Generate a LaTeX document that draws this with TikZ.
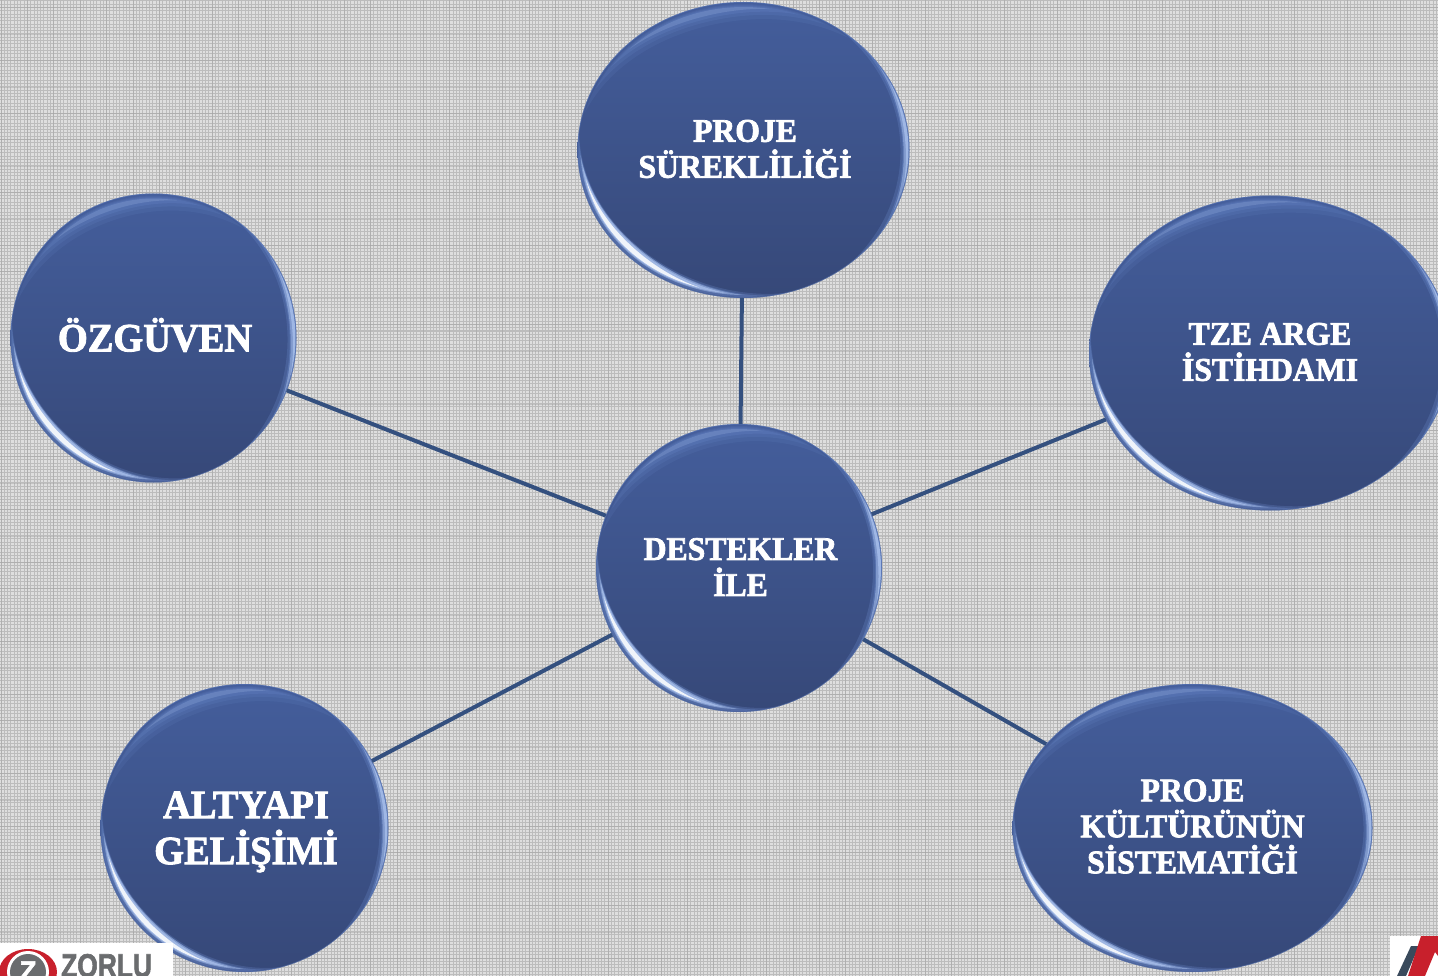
\documentclass[tikz,border=0pt]{standalone}
\usepackage{fontspec}
\setmainfont{Liberation Serif}[BoldFeatures={FakeBold=2.2,FakeStretch=.96}]
\setsansfont{Liberation Sans}[BoldFeatures={FakeBold=2}]
\usetikzlibrary{shapes.geometric}
\definecolor{bgbase}{HTML}{DEDEDE}
\definecolor{bggrid}{HTML}{BCBCBC}
\definecolor{bggridd}{HTML}{9C9C9C}
\definecolor{bubtop}{HTML}{445E9C}
\definecolor{bubbot}{HTML}{364878}
\definecolor{rimblue}{HTML}{6F8FD0}
\definecolor{rimlight}{HTML}{B4CBF5}
\definecolor{linkcol}{HTML}{34507F}
\definecolor{zred}{HTML}{C8202C}
\definecolor{zgrey}{HTML}{6A6C6E}
\definecolor{adark}{HTML}{3A4A5C}
\tikzset{
  link/.style={draw=linkcol,line width=4pt},
  bubtext/.style={text=white,align=center},
}
% tapered band along the rim: style, rx, ry, from angle, to angle, inset, width
\newcommand{\band}[7]{%
  \fill[#1] plot[domain=#4:#5,samples=36,smooth] ({(#2-#6)*cos(\x)},{(#3-#6)*sin(\x)})
    -- plot[domain=#5:#4,samples=36,smooth]
      ({(#2-#6-#7*sin((\x-#4)/(#5-#4)*180))*cos(\x)},{(#3-#6-#7*sin((\x-#4)/(#5-#4)*180))*sin(\x)}) -- cycle;}
\newcommand{\rims}[3]{%
  \begin{scope}[shift={(#1.center)},x=1pt,y=1pt]
    \clip (0,0) ellipse [x radius=#2pt,y radius=#3pt];
    % top
    \band{rimblue,opacity=.12}{#2}{#3}{50}{165}{2}{18}
    \band{rimblue,opacity=.15}{#2}{#3}{60}{155}{3}{13}
    \band{rimblue,opacity=.20}{#2}{#3}{70}{145}{4}{9}
    \band{rimlight,opacity=.20}{#2}{#3}{80}{135}{5}{5}
    % right
    \band{rimblue,opacity=.25}{#2}{#3}{-50}{55}{0}{9}
    \band{rimblue,opacity=.35}{#2}{#3}{-35}{45}{0}{7}
    \band{rimlight,opacity=.45}{#2}{#3}{-25}{35}{1}{5}
    \band{rimlight,opacity=.6}{#2}{#3}{-15}{28}{1}{3}
    % lower left
    \band{rimblue,opacity=.25}{#2}{#3}{172}{285}{0}{14}
    \band{rimblue,opacity=.35}{#2}{#3}{176}{278}{1}{12}
    \band{rimlight,opacity=.45}{#2}{#3}{182}{270}{3}{10}
    \band{rimlight,opacity=.6}{#2}{#3}{186}{264}{4}{8}
    \band{white,opacity=.85}{#2}{#3}{192}{254}{5}{5}
    \draw[rimblue,opacity=.4,line width=1.2pt] (0,0) ellipse [x radius=#2pt,y radius=#3pt];
  \end{scope}}
\newcommand{\bubble}[9]{%
  \node[ellipse,inner sep=0pt,outer sep=0pt,draw=none,
    minimum width=2*#4pt,minimum height=2*#5pt,
    top color=bubtop,bottom color=bubbot]
    (#1) at (#2,#3) {};
  \rims{#1}{#4}{#5}
  \node[bubtext,inner sep=0pt,font=\bfseries\fontsize{#6pt}{#7pt}\selectfont,#9] (#1t) at (#1.center) {#8};}
\begin{document}
\begin{tikzpicture}[x=1pt,y=-1pt]
\useasboundingbox (0,0) rectangle (1438,976);
\fill[bgbase] (0,0) rectangle (1438,976);
\foreach \i in {0,...,435}{
  \pgfmathsetmacro{\p}{\i*3.3+1}
  \draw[bggrid,line width=1pt] (\p,0) -- (\p,976);
}
\foreach \i in {0,...,295}{
  \pgfmathsetmacro{\p}{\i*3.3+1}
  \draw[bggrid,line width=1pt] (0,\p) -- (1438,\p);
}
\foreach \i in {0,...,53}{
  \pgfmathsetmacro{\p}{\i*26.4+1}
  \draw[bggridd,line width=1pt,opacity=.4] (\p,0) -- (\p,976);
}
\foreach \i in {0,...,36}{
  \pgfmathsetmacro{\p}{\i*26.4+8}
  \draw[bggridd,line width=1pt,opacity=.4] (0,\p) -- (1438,\p);
}
\bubble{sure}{743.5}{150}{166}{148}{33}{36}{PROJE\\SÜREKLİLİĞİ}{xshift=1.5pt,yshift=1pt}
\bubble{ozg}{153.5}{338}{143}{144.5}{40}{46}{ÖZGÜVEN}{xshift=1.5pt,yshift=3pt}
\bubble{tze}{1270}{353}{181}{157.5}{33}{36}{TZE ARGE\\İSTİHDAMI}{yshift=1pt}
\bubble{des}{739}{568}{143}{144}{33}{36}{DESTEKLER\\İLE}{xshift=1.5pt,yshift=1pt}
\bubble{alt}{244.5}{828}{144}{144}{40}{46}{ALTYAPI\\GELİŞİMİ}{xshift=1.5pt,yshift=-4pt}
\bubble{kul}{1192.5}{828}{180}{144}{33}{36}{PROJE\\KÜLTÜRÜNÜN\\SİSTEMATİĞİ}{yshift=1.5pt}
\draw[link] (des) -- (sure);
\draw[link] (des) -- (ozg);
\draw[link] (des) -- (tze);
\draw[link] (des) -- (alt);
\draw[link] (des) -- (kul);
% left logo
\fill[white] (0,943) rectangle (173,976);
\fill[zred] (28,972) ellipse [x radius=29pt,y radius=23pt];
\fill[white] (28,972) ellipse [x radius=21pt,y radius=21pt];
\fill[zgrey] (28,972) circle [radius=18pt];
\node[text=white,font=\sffamily\bfseries\fontsize{28pt}{28pt}\selectfont,inner sep=0pt] (zz) at (28,971) {Z};
\node[text=zgrey,font=\sffamily\bfseries\fontsize{33pt}{33pt}\selectfont,anchor=base west,inner sep=0pt,xscale=.8] (zorlu) at (61,977) {ZORLU};
% right logo
\fill[white] (1390,936) rectangle (1438,976);
\fill[adark] (1411,946) -- (1419,946) -- (1406,976) -- (1397,976) -- cycle;
\fill[zred] (1421,936) -- (1438,936) -- (1438,956) -- (1435,952) -- (1425,976) -- (1408,976) -- cycle;
\end{tikzpicture}
\end{document}
